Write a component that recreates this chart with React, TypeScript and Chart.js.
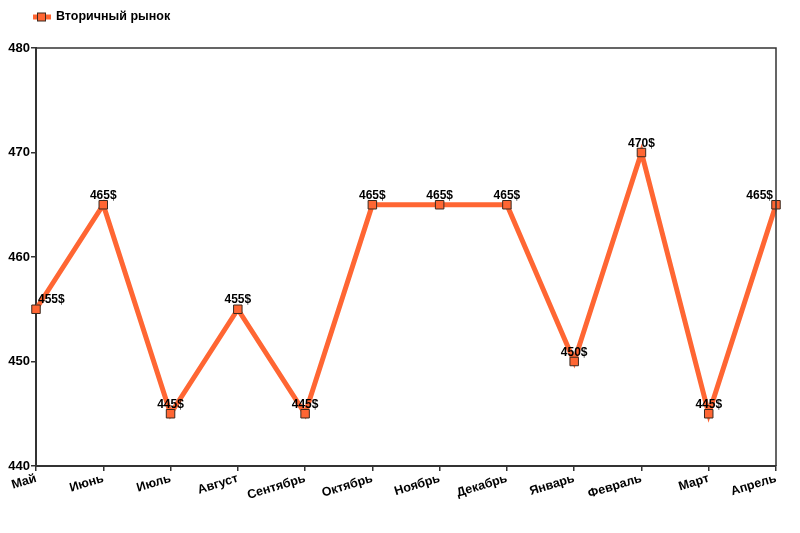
import React, { useEffect, useRef } from "react";
import { Chart, registerables } from "chart.js";

Chart.register(...registerables);

const months = ["Май", "Июнь", "Июль", "Август", "Сентябрь", "Октябрь", "Ноябрь", "Декабрь", "Январь", "Февраль", "Март", "Апрель"];
const prices = [455, 465, 445, 455, 445, 465, 465, 465, 450, 470, 445, 465];
const seriesName = "Вторичный рынок";
const yMin = 440;
const yMax = 480;
const yStep = 10;

const LINE = "#ff6633";
const EDGE = "#3a2a20";
const FONT = "Arial, 'Liberation Sans', sans-serif";

const decor = {
  id: "decor",
  afterDatasetsDraw(chart: any) {
    const ctx = chart.ctx;
    const a = chart.chartArea;
    ctx.save();
    // frame top and right
    ctx.strokeStyle = "#333";
    ctx.lineWidth = 1.5;
    ctx.beginPath();
    ctx.moveTo(a.left, a.top);
    ctx.lineTo(a.right, a.top);
    ctx.lineTo(a.right, a.bottom);
    ctx.stroke();
    // data labels
    const meta = chart.getDatasetMeta(0);
    ctx.font = "bold 12px " + FONT;
    ctx.fillStyle = "#000";
    ctx.textBaseline = "alphabetic";
    ctx.textAlign = "left";
    meta.data.forEach((pt: any, i: number) => {
      const txt = prices[i] + "$";
      const w = ctx.measureText(txt).width;
      let x = pt.x - w / 2;
      if (x < a.left + 2) x = a.left + 2;
      if (x + w > a.right - 3) x = a.right - 3 - w;
      ctx.fillText(txt, x, pt.y - 6);
    });
    // legend
    const ly = 17;
    ctx.strokeStyle = LINE;
    ctx.lineWidth = 5;
    ctx.beginPath();
    ctx.moveTo(33, ly);
    ctx.lineTo(51, ly);
    ctx.stroke();
    ctx.fillStyle = LINE;
    ctx.fillRect(37.5, ly - 4, 8, 8);
    ctx.strokeStyle = EDGE;
    ctx.lineWidth = 1;
    ctx.strokeRect(37.5, ly - 4, 8, 8);
    ctx.fillStyle = "#000";
    ctx.font = "bold 12.5px " + FONT;
    ctx.textBaseline = "middle";
    ctx.fillText(seriesName, 56, ly);
    ctx.restore();
  },
};

export default function App() {
  const ref = useRef<HTMLCanvasElement>(null);
  useEffect(() => {
    const chart = new Chart(ref.current!, {
      type: "line",
      data: {
        labels: months,
        datasets: [
          {
            label: seriesName,
            data: prices,
            borderColor: LINE,
            borderWidth: 5,
            tension: 0,
            pointStyle: "rect",
            pointRadius: 6,
            pointBackgroundColor: LINE,
            pointBorderColor: EDGE,
            pointBorderWidth: 1,
          },
        ],
      },
      options: {
        animation: false,
        responsive: false,
        maintainAspectRatio: false,
        layout: { padding: { top: 48, right: 24, left: 0, bottom: 0 } },
        plugins: { legend: { display: false }, tooltip: { enabled: false } },
        scales: {
          x: {
            offset: false,
            grid: { drawOnChartArea: false, drawTicks: true, tickLength: 5, color: "#333", lineWidth: 1.5 },
            border: { display: true, color: "#333", width: 2 },
            ticks: {
              autoSkip: false,
              maxRotation: 17,
              minRotation: 17,
              color: "#000",
              font: { family: FONT, size: 12.5, weight: "bold" },
              padding: 0,
            },
            afterFit(s: any) {
              s.height = 67;
            },
          },
          y: {
            min: yMin,
            max: yMax,
            grid: { drawOnChartArea: false, drawTicks: true, tickLength: 5, color: "#333", lineWidth: 1.5 },
            border: { display: true, color: "#333", width: 2 },
            ticks: {
              stepSize: yStep,
              color: "#000",
              font: { family: FONT, size: 13, weight: "bold" },
              padding: 1,
            },
            afterFit(s: any) {
              s.width = 36;
            },
          },
        },
      },
      plugins: [decor],
    });
    return () => chart.destroy();
  }, []);
  return (
    <div style={{ position: "fixed", left: 0, top: 0, width: 800, height: 533, background: "#fff" }}>
      <canvas ref={ref} width={800} height={533} style={{ width: 800, height: 533 }} />
    </div>
  );
}
